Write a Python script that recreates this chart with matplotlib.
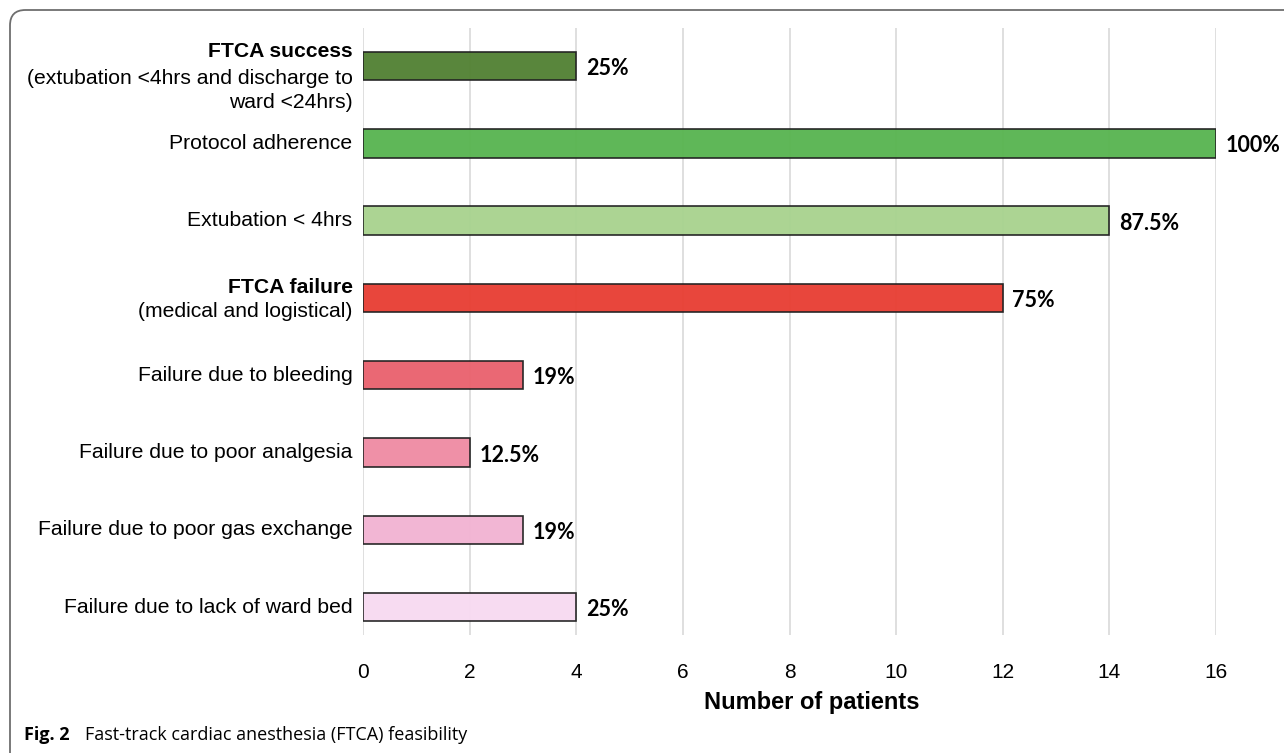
import matplotlib.pyplot as plt
from matplotlib.patches import FancyBboxPatch

# data
categories = [
    "FTCA success",
    "Protocol adherence",
    "Extubation < 4hrs",
    "FTCA failure",
    "Failure due to bleeding",
    "Failure due to poor analgesia",
    "Failure due to poor gas exchange",
    "Failure due to lack of ward bed",
]
patients = [4, 16, 14, 12, 3, 2, 3, 4]
pct_labels = ["25%", "100%", "87.5%", "75%", "19%", "12.5%", "19%", "25%"]
bar_colors = ["#548235", "#5ab552", "#a9d390", "#e84035",
              "#ea636f", "#ef8ca4", "#f2b4d3", "#f7daf1"]
x_ticks = [0, 2, 4, 6, 8, 10, 12, 14, 16]

W, H = 1284, 753
fig = plt.figure(figsize=(W / 100, H / 100), dpi=100)
ax = fig.add_axes([363 / W, 1 - 635 / H, (1216 - 363) / W, (635 - 28) / H])

label_font = "Liberation Sans"
pct_font = "Lato"

ypos = list(range(len(categories)))
ax.barh(ypos, patients, height=0.37, color=bar_colors, edgecolor="#222222",
        linewidth=1.2, alpha=0.97, zorder=2)
ax.set_xlim(0, 16)
ax.set_ylim(7.36, -0.49)
ax.set_xticks(x_ticks)
ax.set_xticklabels([str(t) for t in x_ticks], fontsize=15, family=label_font)
ax.tick_params(axis="x", length=0, pad=20)
ax.set_yticks([])
ax.grid(axis="x", color="#d9d9d9", linewidth=1.2, zorder=0)
ax.set_axisbelow(True)
for s in ax.spines.values():
    s.set_visible(False)

# value labels to the right of each bar
for y, v, lab in zip(ypos, patients, pct_labels):
    ax.annotate(lab, xy=(v, y), xytext=(7, -2), textcoords="offset points",
                ha="left", va="center", fontsize=15.5, fontweight="bold",
                family=pct_font)

# category labels, some split over several lines with a bold first line
multi = {
    0: [("FTCA success", "bold", -14),
        ("(extubation <4hrs and discharge to", "normal", 13),
        ("ward <24hrs)", "normal", 37)],
    3: [("FTCA failure", "bold", -10),
        ("(medical and logistical)", "normal", 14)],
}
for y, name in zip(ypos, categories):
    lines = multi.get(y, [(name, "normal", 0)])
    for text, weight, dy in lines:
        ax.annotate(text, xy=(0, y), xycoords=("axes fraction", "data"),
                    xytext=(-7.5, -dy * 0.72), textcoords="offset points",
                    ha="right", va="center", fontsize=15.2, fontweight=weight,
                    family=label_font)

fig.text(812 / W, 1 - 703 / H, "Number of patients", ha="center", va="center",
         fontsize=17, fontweight="bold", family=label_font)

# caption and frame
fig.text(24 / W, 1 - 735 / H, "Fig. 2", ha="left", va="center",
         fontsize=13, fontweight="bold", family="Open Sans")
fig.text(85 / W, 1 - 735 / H, "Fast-track cardiac anesthesia (FTCA) feasibility",
         ha="left", va="center", fontsize=13, family="Open Sans")
frame = FancyBboxPatch((10 / W, -20 / H), 1.1, (H - 10 + 20) / H,
                       boxstyle="round,pad=0,rounding_size=0.012",
                       transform=fig.transFigure, fill=False,
                       edgecolor="#6e6e6e", linewidth=1.3, mutation_aspect=W / H)
fig.patches.append(frame)

fig.savefig("out.png", dpi=100)
